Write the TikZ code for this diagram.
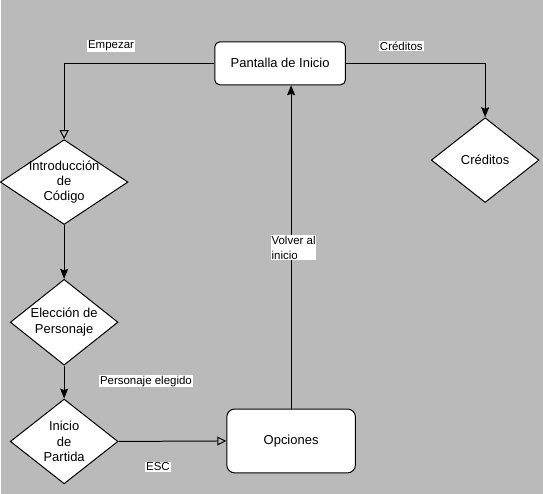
\documentclass[tikz,border=0pt]{standalone}
\usepackage{fontspec}
\setmainfont{Liberation Sans}
\usepackage{tikz}
\usetikzlibrary{arrows.meta,shapes.geometric}
\definecolor{concreto}{RGB}{186,186,186}

\begin{document}
\begin{tikzpicture}[x=1pt, y=-1pt,
  caja/.style={draw, fill=white, line width=1pt, rounded corners=5pt, font=\fontsize{13}{15.5}\selectfont},
  decision/.style={diamond, draw, fill=white, line width=1pt, inner sep=-2pt, aspect=1.27, minimum width=108pt, minimum height=85pt, align=center, font=\fontsize{13}{15.5}\selectfont},
  etiqueta/.style={fill=white, inner sep=0.8pt, align=left, font=\fontsize{11.5}{15}\selectfont},
  flecha/.style={line width=1pt, -{Stealth[length=10pt, width=8pt, inset=1.5pt]}},
  flechaab/.style={line width=1pt, -{Triangle[open, length=9pt, width=9pt]}}]
\fill [concreto] (0,0) rectangle (543,495);

\node [caja, minimum width=131pt, minimum height=43pt] (pantalla) at (279.5,63.5) {Pantalla de Inicio};
\node [decision, aspect=1.5, minimum width=128pt] (intro) at (63,182.5) {Introducción\\de\\Código};
\node [decision, minimum height=86pt] (eleccion) at (63,323) {Elección de\\Personaje};
\node [decision] (inicio) at (63,442.5) {Inicio\\de\\Partida};
\node [caja, rounded corners=8pt, minimum width=129pt, minimum height=64pt] (opciones) at (290.5,442) {Opciones};
\node [decision] (creditos) at (485,160.5) {Créditos};

\draw [flechaab] (pantalla.west) -| (intro.north);
\draw [flecha] (pantalla.east) -| (creditos.north);
\draw [flecha] (intro.south) -- (eleccion.north);
\draw [flecha] (eleccion.south) -- (inicio.north);
\draw [flechaab] (inicio.east) -- (opciones.west);
\draw [flecha] (opciones.north) -- (opciones.north |- pantalla.south);

\node [etiqueta] (lempezar) at (110,46) {Empezar};
\node [etiqueta] (lcreditos) at (401,46) {Créditos};
\node [etiqueta] (lelegido) at (145,382) {Personaje elegido};
\node [etiqueta] (lesc) at (157,468) {ESC};
\node [etiqueta] (lvolver) at (293,248.5) {Volver al\\inicio};
\end{tikzpicture}
\end{document}
